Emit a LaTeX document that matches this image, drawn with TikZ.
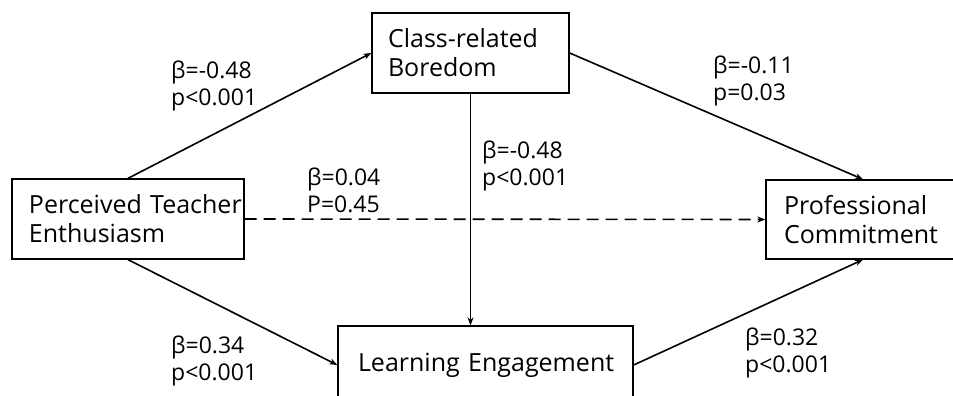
\documentclass[tikz,border=0pt]{standalone}
\usepackage{fontspec}
\setmainfont{Open Sans}
\usetikzlibrary{arrows.meta}
\newcommand\padA{\hspace*{16pt}}
\newcommand\padB{\hspace*{17pt}}
\newcommand\padC{\hspace*{18pt}}
\newcommand\padD{\hspace*{20pt}}
\begin{document}
\begin{tikzpicture}[x=1pt,y=-1pt,
  box/.style={draw, line width=1.3pt, inner sep=0pt, align=left, font=\fontsize{25}{29}\selectfont},
  lbl/.style={anchor=base west, inner sep=0pt, align=left, font=\fontsize{23}{27}\selectfont},
  arr/.style={line width=1.6pt, -{Stealth[length=8pt,width=6pt]}}]
\clip (0,0) rectangle (953,396);
\fill[white] (0,0) rectangle (953,396);
\node[box, text width=197pt, minimum height=80pt] (crb) at (470.5,53) {\padA Class-related\\\padA Boredom};
\node[box, text width=232pt, minimum height=80pt] (pte) at (128,219) {\padB Perceived Teacher\\\padB Enthusiasm};
\node[box, text width=194pt, minimum height=79pt] (pc) at (863,219.5) {\padC Professional\\\padC Commitment};
\node[box, text width=295pt, minimum height=78pt] (le) at (485.5,365) {\padD Learning Engagement};
\draw[arr] (pte.north) -- (crb.west);
\draw[arr] (crb.east) -- (pc.north);
\draw[arr] (crb.south) -- (crb.south |- le.north);
\draw[arr] (pte.south) -- (le.west);
\draw[arr] (le.east) -- (pc.south);
\draw[arr, dash pattern=on 12pt off 7pt] (pte.east) -- (pc.west);
\node[lbl] (l1) at (171,105) {β=-0.48\\p<0.001};
\node[lbl] (l2) at (307,212) {β=0.04\\P=0.45};
\node[lbl] (l3) at (482,185) {β=-0.48\\p<0.001};
\node[lbl] (l4) at (713,100) {β=-0.11\\p=0.03};
\node[lbl] (l5) at (171,380) {β=0.34\\p<0.001};
\node[lbl] (l6) at (745,372) {β=0.32\\p<0.001};
\end{tikzpicture}
\end{document}
